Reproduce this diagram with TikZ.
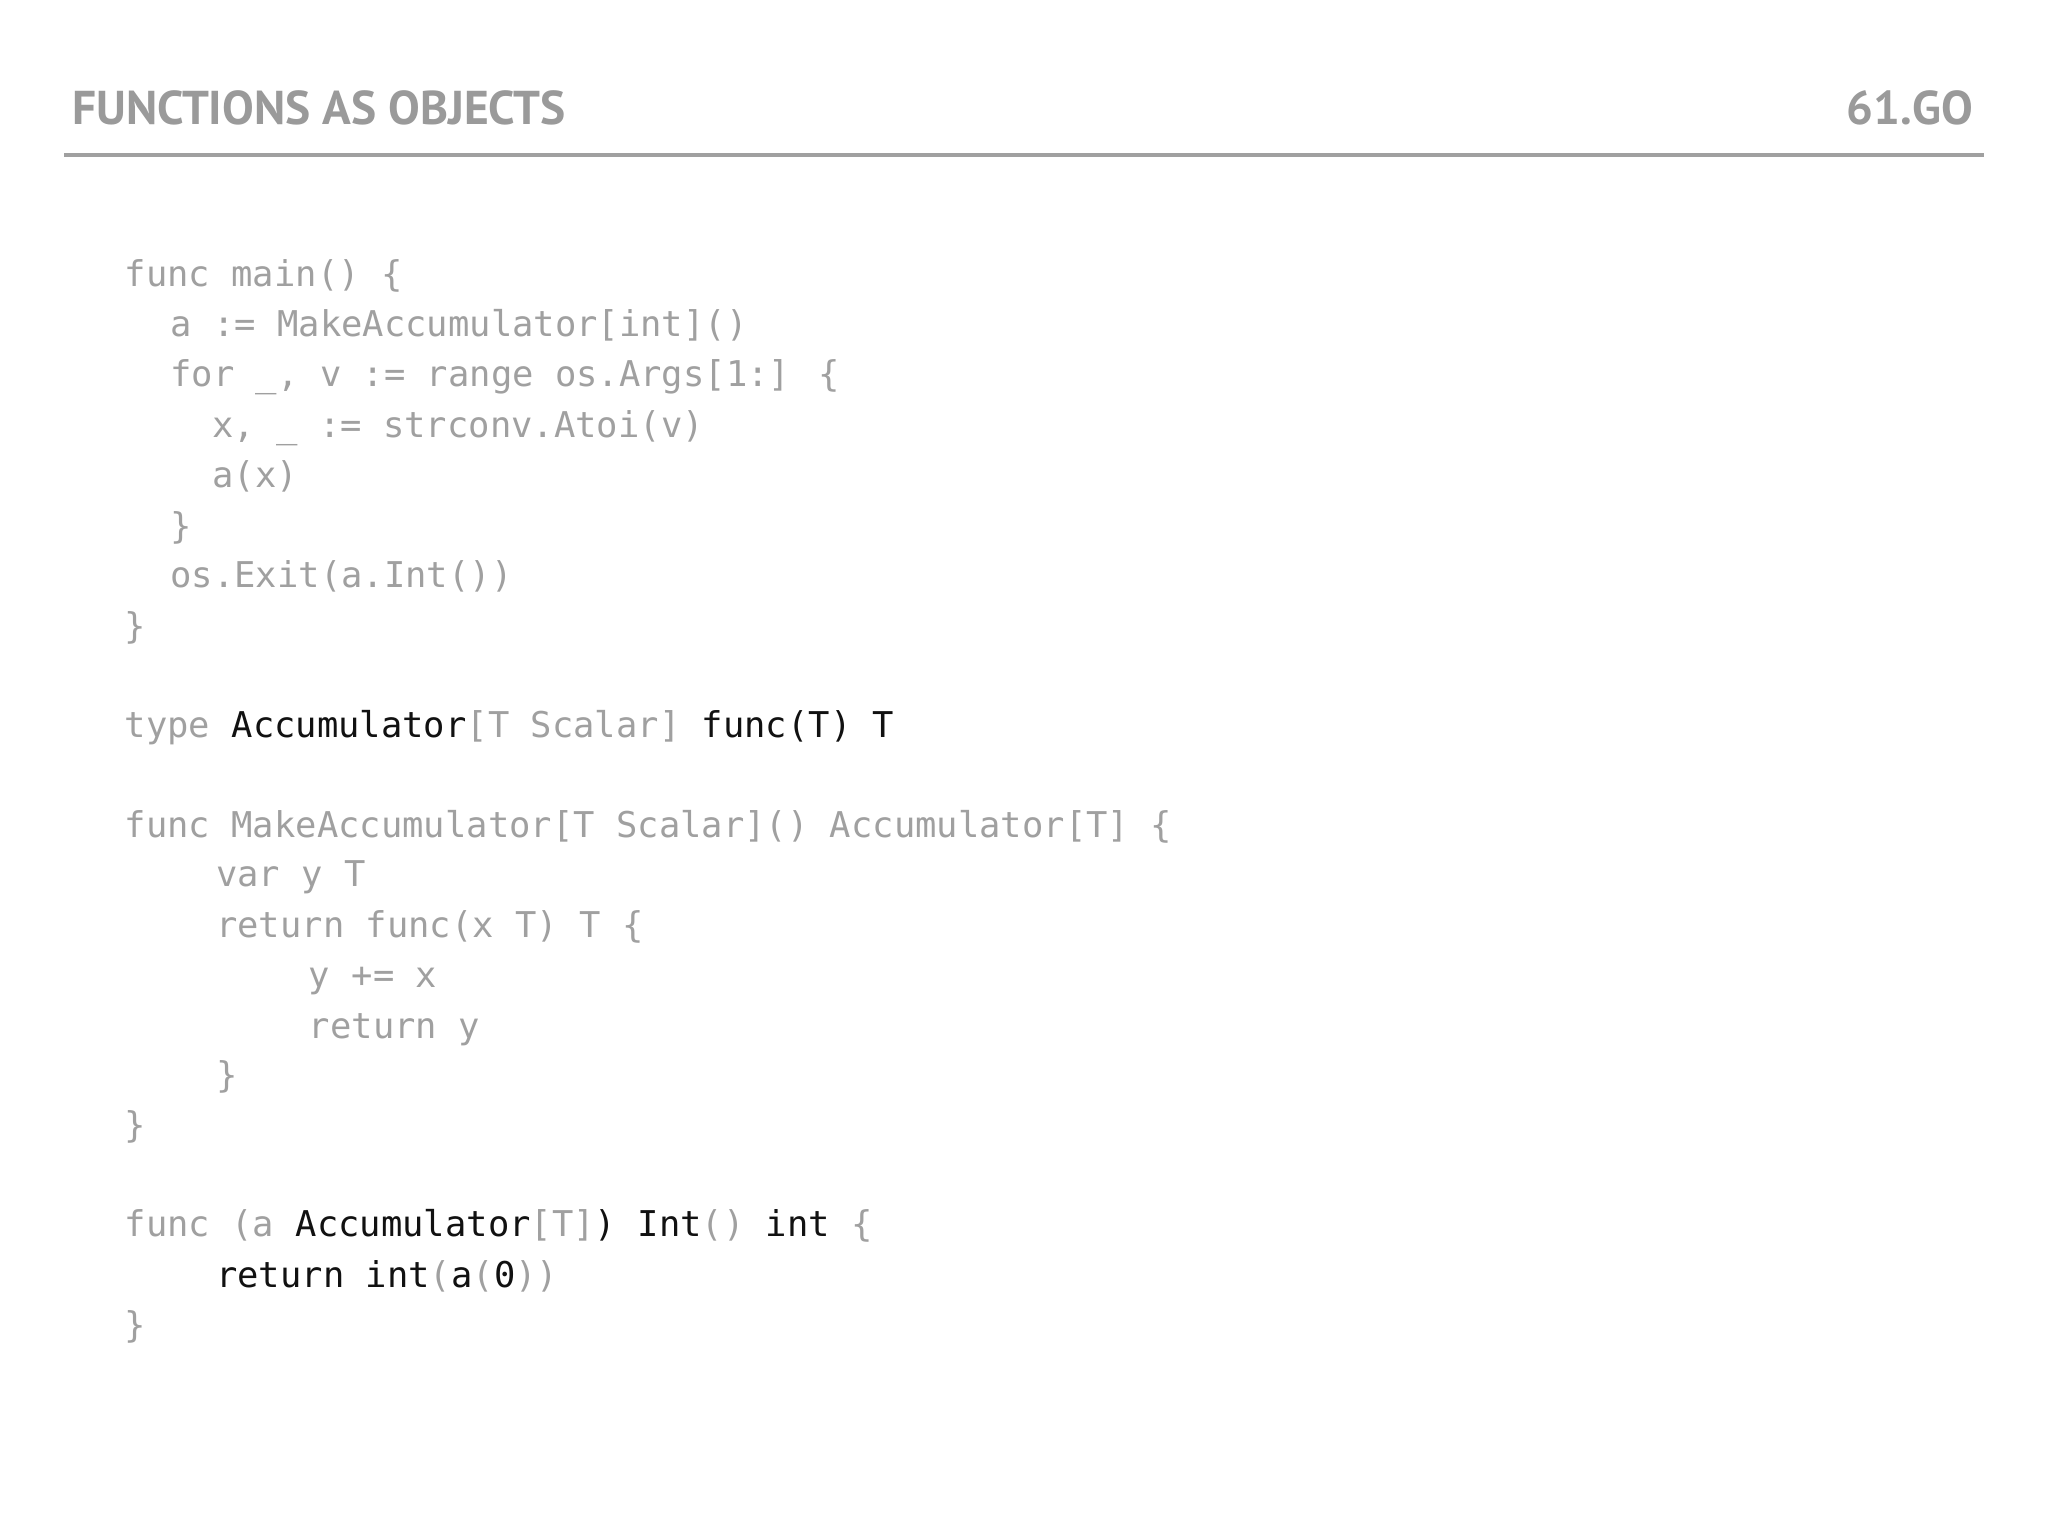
\documentclass[tikz,border=0pt]{standalone}
\usepackage{fontspec}
\setmainfont{PT Sans}
\newfontfamily\codefont{DejaVu Sans Mono}[Scale=1]
\definecolor{cg}{HTML}{A0A0A0}
\definecolor{ck}{HTML}{111111}
\definecolor{tg}{HTML}{9A9A9A}
\newcommand{\G}[1]{\textcolor{cg}{#1}}
\newcommand{\K}[1]{\textcolor{ck}{#1}}
\begin{document}
\begin{tikzpicture}[x=0.01306cm,y=-0.01306cm,
  code/.style={anchor=base west,inner sep=0,font=\codefont\fontsize{10.1pt}{12pt}\selectfont,text=cg},
  ttl/.style={inner sep=0,font=\fontsize{13.5pt}{16pt}\selectfont\bfseries,text=tg}]
\useasboundingbox (0,0) rectangle (1568,1176);
\fill[white] (0,0) rectangle (1568,1176);
\node[ttl,anchor=base west] (title) at (55,95) {FUNCTIONS AS OBJECTS};
\node[ttl,anchor=base east] (num) at (1511,95) {61.GO};
\draw[cg,line width=1.1pt] (49,119) coordinate (l1) -- (1519,119) coordinate (l2);
\node[code] (c1) at (95,219) {func main() \{};
\node[code] (c2) at (130,258) {a := MakeAccumulator[int]()};
\node[code] (c3) at (130,296) {for \_, v := range os.Args[1:] \{};
\node[code] (c4) at (162,335) {x, \_ := strconv.Atoi(v)};
\node[code] (c5) at (162,373) {a(x)};
\node[code] (c6) at (130,412) {\}};
\node[code] (c7) at (130,450) {os.Exit(a.Int())};
\node[code] (c8) at (95,489) {\}};
\node[code] (t1) at (95,565) {type \K{Accumulator}[T Scalar] \K{func(T) T}};
\node[code] (m1) at (95,641) {func MakeAccumulator[T Scalar]() Accumulator[T] \{};
\node[code] (m2) at (165,679) {var y T};
\node[code] (m3) at (165,718) {return func(x T) T \{};
\node[code] (m4) at (236,756) {y += x};
\node[code] (m5) at (236,795) {return y};
\node[code] (m6) at (165,833) {\}};
\node[code] (m7) at (95,871) {\}};
\node[code] (i1) at (95,947) {func (a \K{Accumulator}[T]\K{) Int}() \K{int} \{};
\node[code] (i2) at (165,986) {\K{return int}(\K{a}(\K{0}))};
\node[code] (i3) at (95,1024) {\}};
\end{tikzpicture}
\end{document}
